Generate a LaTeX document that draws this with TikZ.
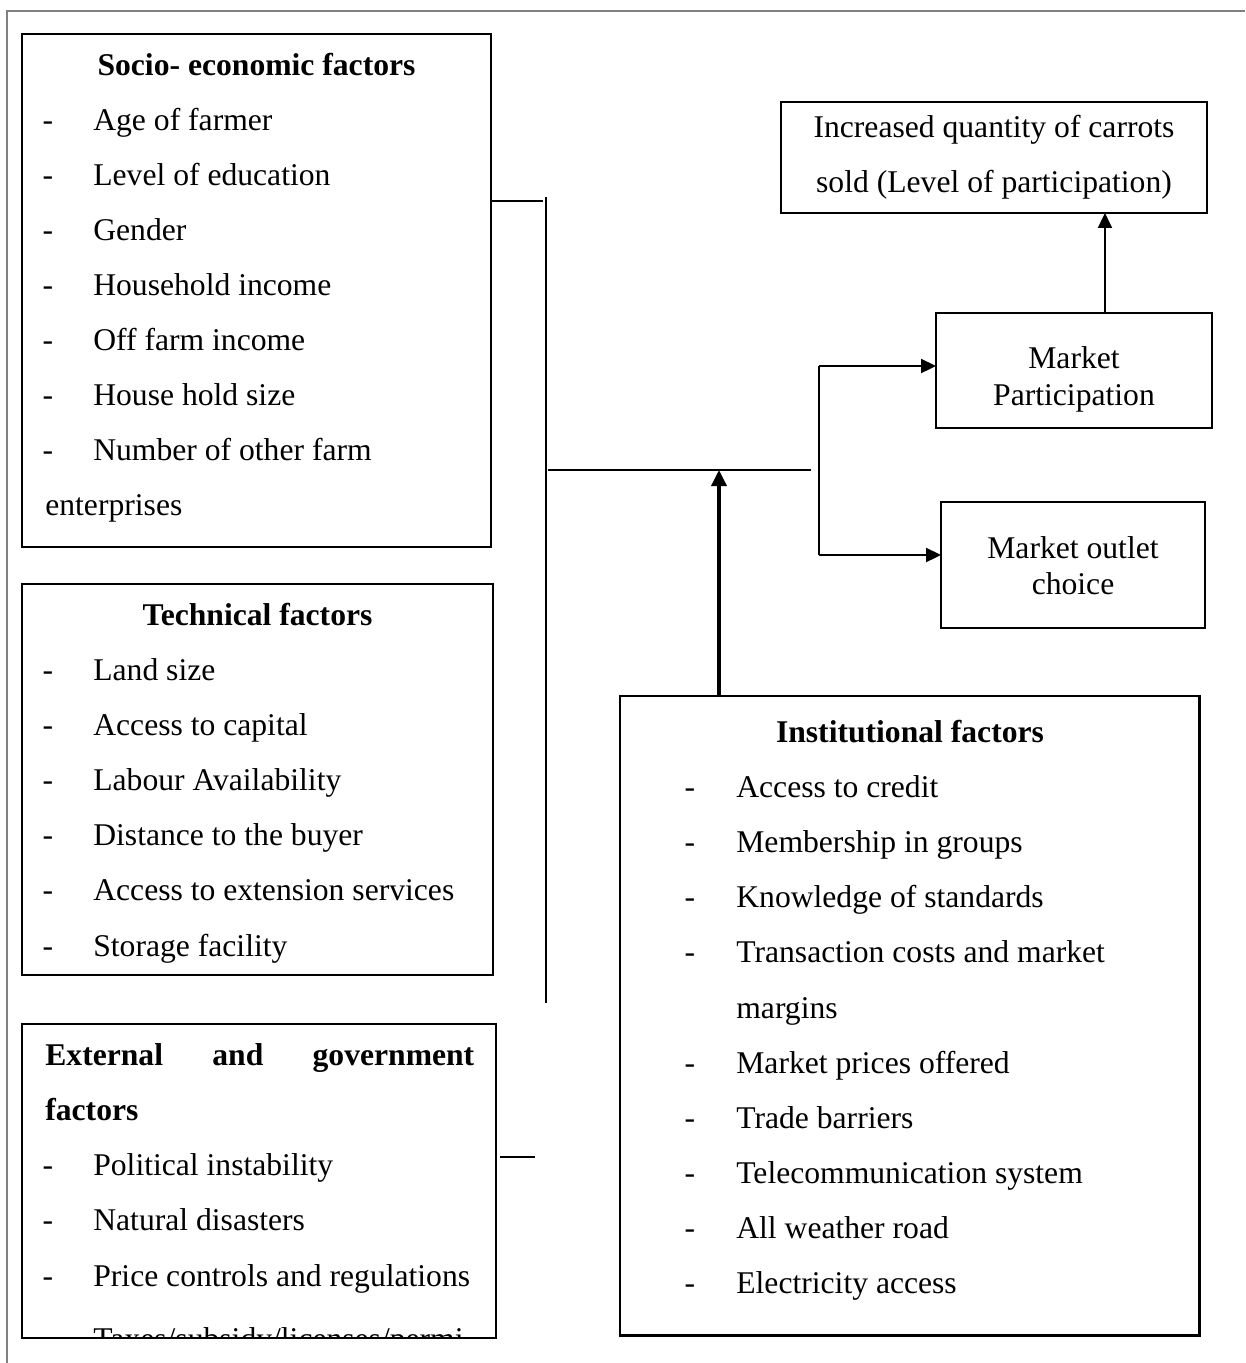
\documentclass[tikz,border=0pt]{standalone}
\usepackage{fontspec}
\setmainfont{Liberation Serif}
\usetikzlibrary{arrows.meta}

\tikzset{
  box/.style={draw, line width=1.6pt, inner sep=0pt, outer sep=0pt, anchor=north west},
  item/.style={anchor=base west, inner sep=0pt},
  dashmark/.style={anchor=base, inner sep=0pt},
  head/.style={anchor=base, inner sep=0pt, font=\bfseries},
  centred/.style={anchor=base, inner sep=0pt},
  link/.style={line width=0.8pt},
  flow/.style={line width=1.3pt, -{Triangle[length=0.3cm, width=0.28cm]}},
  bigflow/.style={line width=2pt, -{Triangle[length=0.32cm, width=0.3cm]}},
  frame/.style={line width=0.6pt, gray}
}

\begin{document}
\begin{tikzpicture}[x=0.02cm, y=-0.02cm]
  \fontsize{18}{22}\selectfont
  \useasboundingbox (0,0) rectangle (1245,1363);

  % Drawing page frame
  \draw[frame] (7,1363) -- (7,11) -- (1245,11);

  % Drawing box socio
  \node[box, minimum width=9.38cm, minimum height=10.26cm] (socio) at (22,34) {};
  \node[head] (socio-head) at (256.5,75) {Socio- economic factors};
  \foreach \t [count=\i from 0] in {Age of farmer, Level of education, Gender,
      Household income, Off farm income, House hold size, Number of other farm} {
    \node[dashmark] (socio-dash-\i) at (48,130+55*\i) {-};
    \node[item] (socio-\i) at (93,130+55*\i) {\t};
  }
  \node[item] (socio-7) at (45,515) {enterprises};

  % Drawing box technical
  \node[box, minimum width=9.42cm, minimum height=7.82cm] (technical) at (22,584) {};
  \node[head] (technical-head) at (257.5,625) {Technical factors};
  \foreach \t [count=\i from 0] in {Land size, Access to capital, Labour Availability,
      Distance to the buyer, Access to extension services, Storage facility} {
    \node[dashmark] (technical-dash-\i) at (48,680+55.2*\i) {-};
    \node[item] (technical-\i) at (93,680+55.2*\i) {\t};
  }

  % Drawing box external (last line cut by the box)
  \node[box, minimum width=9.48cm, minimum height=6.28cm] (external) at (22,1024) {};
  \begin{scope}
    \clip (external.north west) rectangle (external.south east);
    \node[item] (external-3) at (93,1349) {Taxes/subsidy/licenses/permi};
  \end{scope}
  \node[item, font=\bfseries] (external-head) at (45,1065)
    {\makebox[8.58cm][s]{External and government}};
  \node[item, font=\bfseries] (external-head2) at (45,1120) {factors};
  \foreach \t [count=\i from 0] in {Political instability, Natural disasters,
      Price controls and regulations} {
    \node[dashmark] (external-dash-\i) at (48,1175+55.5*\i) {-};
    \node[item] (external-\i) at (93,1175+55.5*\i) {\t};
  }
  \draw[line width=1.6pt] (external.north west) rectangle (external.south east);

  % Drawing box institutional
  \node[box, minimum width=11.6cm, minimum height=12.8cm] (institutional) at (620,696) {};
  \node[head] (institutional-head) at (910,742) {Institutional factors};
  \foreach \t/\k in {Access to credit/0, Membership in groups/1, Knowledge of standards/2,
      Transaction costs and market/3, Market prices offered/5, Trade barriers/6,
      Telecommunication system/7, All weather road/8, Electricity access/9} {
    \node[dashmark] (institutional-dash-\k) at (690,797+55.2*\k) {-};
    \node[item] (institutional-\k) at (736,797+55.2*\k) {\t};
  }
  \node[item] (institutional-4) at (736,1018) {margins};

  % Drawing boxes on the right
  \node[box, minimum width=8.52cm, minimum height=2.22cm] (quantity) at (781,102) {};
  \node[centred] (quantity-1) at (994,137) {Increased quantity of carrots};
  \node[centred] (quantity-2) at (994,192) {sold (Level of participation)};

  \node[box, minimum width=5.52cm, minimum height=2.3cm] (participation) at (936,313) {};
  \node[centred] (participation-1) at (1074,368) {Market};
  \node[centred] (participation-2) at (1074,405) {Participation};

  \node[box, minimum width=5.28cm, minimum height=2.52cm] (outlet) at (941,502) {};
  \node[centred] (outlet-1) at (1073,558) {Market outlet};
  \node[centred] (outlet-2) at (1073,594) {choice};

  % Marking joints of the lines
  \coordinate (socstub) at (543,201);
  \coordinate (bustop) at (546,197);
  \coordinate (busbot) at (546,1003);
  \coordinate (hleft) at (548,470);
  \coordinate (hright) at (811,470);
  \coordinate (hmid) at (719,470);
  \coordinate (splittop) at (819,366);
  \coordinate (splitbot) at (819,555);
  \coordinate (extstub) at (535,1157);

  % Drawing lines between the factors
  \draw[link] (socio.east |- socstub) -- (socstub);
  \draw[link] (bustop) -- (busbot);
  \draw[link] (hleft) -- (hright);
  \draw[link] ([xshift=0.08cm]external.east |- extstub) -- (extstub);
  \draw[bigflow] (institutional.north -| hmid) -- (hmid);

  % Drawing arrows to the outcomes
  \draw[link] (splittop) -- (splitbot);
  \draw[flow] (splittop) -- (participation.west |- splittop);
  \draw[flow] (splitbot) -- (outlet.west |- splitbot);
  \draw[flow, line width=1.1pt] ([xshift=0.62cm]participation.north)
    -- ([xshift=0.62cm]participation.north |- quantity.south);
\end{tikzpicture}
\end{document}
